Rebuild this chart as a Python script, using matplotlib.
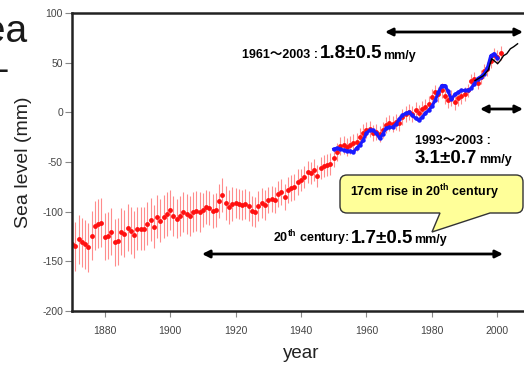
import numpy as np
import matplotlib
matplotlib.use('Agg')
import matplotlib.pyplot as plt
from matplotlib.offsetbox import TextArea, HPacker, AnnotationBbox
from matplotlib.path import Path
from matplotlib.patches import PathPatch

plt.rcParams['font.family'] = ['Liberation Sans', 'Noto Sans CJK JP', 'DejaVu Sans']
plt.rcParams['axes.unicode_minus'] = False
plt.rcParams['mathtext.fontset'] = 'custom'
plt.rcParams['mathtext.bf'] = 'Liberation Sans:bold'
plt.rcParams['mathtext.rm'] = 'Liberation Sans:bold'

# ---------------- data ----------------
red_years = list(range(1870, 2002))
red_level = [
    -133, -135, -128, -131, -133, -136, -124, -114, -112, -111,
    -125, -124, -120, -131, -130, -120, -122, -116, -119, -123,
    -117, -117, -117, -112, -108, -115, -105, -109, -105, -102,
    -98, -104, -107, -104, -100,
    -102, -104, -100, -99, -100, -98, -95, -96, -99, -98,
    -89, -83, -91, -95, -92, -91, -92, -93, -92, -94,
    -99, -100, -94, -91, -93, -88, -87, -88, -82, -80,
    -85, -78, -76, -75, -70,
    -68, -65, -60, -61, -58, -64, -56, -54, -53, -52,
    -46, -40, -34, -33, -35, -33, -31, -30, -25, -21,
    -18, -17, -21, -20, -22, -18, -13, -11, -12, -10,
    -11, -5, -2, 0, -2, 2, -1, 3, 5, 8,
    15, 20, 18, 22, 16, 12, 14, 10, 14, 16,
    18, 22, 32, 34, 30, 36, 42, 44, 52, 58,
    56, 60,
]
# error half-width read per decade (1870s ... 2000s) and years in each decade
decade_err = [25, 24, 22, 20, 17, 15, 13, 11, 9, 8, 8, 8, 7, 7]
decade_len = [10, 10, 10, 10, 10, 10, 10, 10, 10, 10, 10, 10, 10, 2]
red_err = np.repeat(decade_err, decade_len)

blue_years = list(range(1950, 2001))
blue_level = [
    -37, -36, -37, -38, -39, -39, -40, -36, -33, -28,
    -21, -18, -18, -21, -26, -22, -16, -15, -15, -12,
    -7, -3, -1, 0, -3, -6, -8, -5, -1, 2,
    6, 12, 20, 27, 27, 21, 13, 18, 20, 22,
    22, 22, 24, 29, 34, 36, 39, 45, 57, 59,
    55,
]

black_years = [1993.2, 1994.8, 1995.8, 1997.3, 1998.3, 1999.4, 2000.1,
               2000.9, 2001.9, 2002.9, 2004.0, 2005.0, 2006.2]
black_level = [32, 35, 37, 43, 54, 51, 49, 52, 57, 59, 64, 66, 69]

x_ticks = [1880, 1900, 1920, 1940, 1960, 1980, 2000]
y_ticks = [-200, -150, -100, -50, 0, 50, 100]

# ---------------- figure ----------------
W, H = 524, 368
fig = plt.figure(figsize=(W / 100, H / 100), dpi=100)
ax = fig.add_axes([72 / W, 1 - 311 / H, 458 / W, 298 / H])


def fp(x, y):
    return (x / W, 1 - y / H)


ax.errorbar(red_years, red_level, yerr=red_err, fmt='o', ms=3.5,
            mfc='#ff1010', mec='#ff1010', mew=0, ecolor='#ff8c8c',
            elinewidth=0.8, capsize=1.8, capthick=0.8, zorder=2)
ax.plot(blue_years, blue_level, '-o', color='#1a1aff', lw=2.2, ms=3.2,
        mew=0, zorder=3)
ax.plot(black_years, black_level, '-', color='black', lw=1.0, zorder=4)

ax.set_xlim(1870, 2010)
ax.set_ylim(-200, 100)
ax.set_xticks(x_ticks)
ax.set_yticks(y_ticks)
for s in ['left', 'top', 'bottom']:
    ax.spines[s].set_linewidth(1.8)
    ax.spines[s].set_color('#222222')
ax.spines['right'].set_visible(False)
ax.tick_params(axis='both', direction='out', width=0.8, color='#888888',
               labelsize=7.5, labelcolor='#444444')
ax.tick_params(axis='y', length=5, pad=1.5)
ax.tick_params(axis='x', length=4.5, pad=6)

ax.set_ylabel('Sea level (mm)', fontsize=14, color='#222222')
ax.yaxis.set_label_coords((32 - 72) / 458, 0.5)
ax.set_xlabel('year', fontsize=13.5, color='#222222')
ax.xaxis.set_label_coords(0.5, -(345 - 311) / 298)

# cropped slide text at the left
fig.text(*fp(27, 42), 'Sea', fontsize=28, ha='right', va='baseline',
         color='#1a1a1a')
fig.text(*fp(8, 81), '\u2013', fontsize=28, ha='right', va='baseline',
         color='#1a1a1a')

# arrows
arrow_kw = dict(arrowstyle='<|-|>', lw=2.0, color='black', mutation_scale=11,
                shrinkA=0, shrinkB=0)
for (x0, x1, y) in [(385, 523, 32), (480, 523, 109), (202, 503, 254)]:
    ax.annotate('', xy=fp(x1, y), xytext=fp(x0, y), xycoords='figure fraction',
                textcoords='figure fraction', arrowprops=arrow_kw,
                annotation_clip=False)


def rich(parts, x, y):
    boxes = [TextArea(t, textprops=dict(fontsize=s, fontweight='bold',
                                        color='black')) for t, s in parts]
    pk = HPacker(children=boxes, align='baseline', pad=0, sep=1)
    ab = AnnotationBbox(pk, fp(x, y), xycoords='figure fraction',
                        box_alignment=(0, 0.5), frameon=False, pad=0,
                        annotation_clip=False)
    fig.add_artist(ab)


rich([('1961\uff5e2003 :', 9), ('1.8\u00b10.5', 13.5), ('mm/y', 9)], 242, 54)
fig.text(*fp(415, 144), '1993\uff5e2003 :', fontsize=9, fontweight='bold',
         va='baseline', ha='left')
rich([('3.1\u00b10.7', 13.5), ('mm/y', 9)], 415, 158.5)
rich([(r'20$^{\mathbf{th}}$ century:', 9), ('1.7\u00b10.5', 13.5),
      ('mm/y', 9)], 273, 238.5)

# callout balloon
x0, x1, yt, yb, r = 340, 523, 175, 213, 7
tip = (432, 232)
pts = [
    ((x0 + r, yt), Path.MOVETO),
    ((x1 - r, yt), Path.LINETO),
    ((x1, yt), Path.CURVE3), ((x1, yt + r), Path.CURVE3),
    ((x1, yb - r), Path.LINETO),
    ((x1, yb), Path.CURVE3), ((x1 - r, yb), Path.CURVE3),
    ((490, yb), Path.LINETO),
    (tip, Path.LINETO),
    ((440, yb), Path.LINETO),
    ((x0 + r, yb), Path.LINETO),
    ((x0, yb), Path.CURVE3), ((x0, yb - r), Path.CURVE3),
    ((x0, yt + r), Path.LINETO),
    ((x0, yt), Path.CURVE3), ((x0 + r, yt), Path.CURVE3),
    ((x0 + r, yt), Path.CLOSEPOLY),
]
verts = [fp(*p) for p, _ in pts]
codes = [c for _, c in pts]
balloon = PathPatch(Path(verts, codes), facecolor='#ffff99',
                    edgecolor='#333333', lw=1.0, transform=fig.transFigure,
                    zorder=5)
fig.add_artist(balloon)
fig.text(*fp(350, 196), r'17cm rise in 20$^{\mathbf{th}}$ century', fontsize=9,
         fontweight='bold', va='baseline', ha='left', zorder=6)

fig.savefig('out.png', dpi=100)
